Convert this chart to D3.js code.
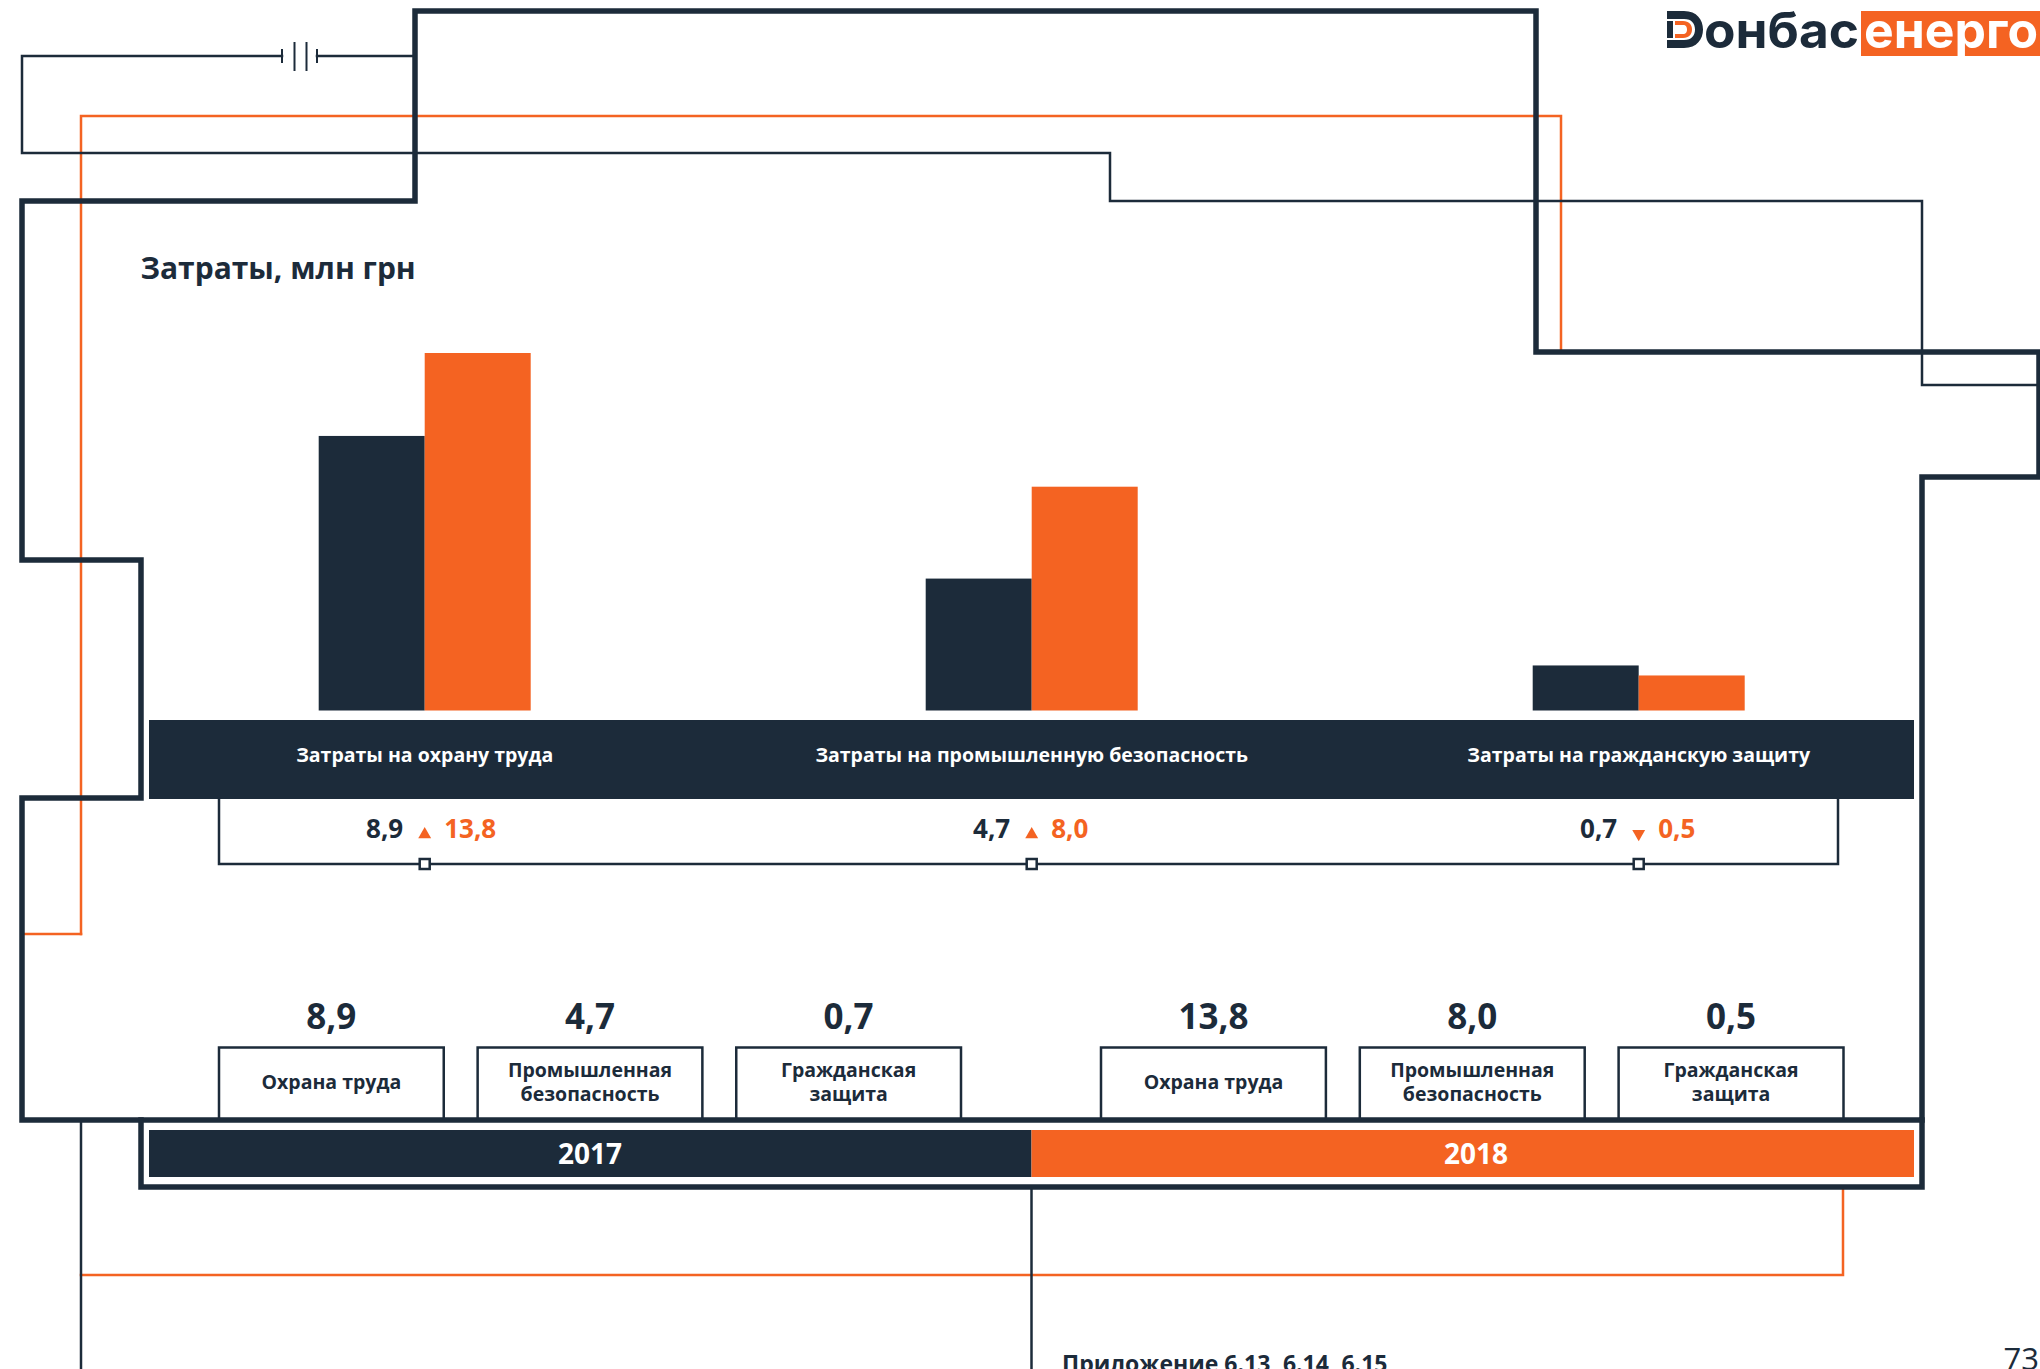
<!DOCTYPE html>
<html>
<head>
<meta charset="utf-8">
<script src="https://cdn.jsdelivr.net/npm/d3@7"></script>
<style>
  html, body { margin: 0; padding: 0; background: #fff; overflow: hidden; }
  svg { display: block; }
  text { font-family: "Open Sans", sans-serif; }
</style>
</head>
<body>
<div id="chart"></div>
<script>
const categories = ['Затраты на охрану труда', 'Затраты на промышленную безопасность', 'Затраты на гражданскую защиту'];
const shortLabels = [['Охрана труда'], ['Промышленная', 'безопасность'], ['Гражданская', 'защита']];
const years = ['2017', '2018'];
const values2017 = [8.9, 4.7, 0.7];
const values2018 = [13.8, 8.0, 0.5];

// bars in the source are not drawn in proportion to their labels,
// so the heights are read off separately (tallest bar = 100)
const barLevels2017 = [76.8, 36.9, 12.6];
const barLevels2018 = [100, 62.6, 9.8];

const DARK = '#1c2b3a';
const ORANGE = '#f46322';

const svg = d3.select('#chart').append('svg')
  .attr('width', 2040)
  .attr('height', 1369);

const fmt = d => d3.format('.1f')(d).replace('.', ',');
const line = d3.line();

// background wiring
function wire(points, color, width) {
  svg.append('path')
    .attr('d', line(points))
    .attr('fill', 'none')
    .attr('stroke', color)
    .attr('stroke-width', width)
    .attr('stroke-linejoin', 'miter')
    .attr('stroke-linecap', 'square');
}

wire([[81, 934], [22, 934]], ORANGE, 2.5);
wire([[81, 934], [81, 116], [1561, 116], [1561, 352]], ORANGE, 2.5);
wire([[81, 1275], [1843, 1275], [1843, 1187]], ORANGE, 2.5);
wire([[81, 1120], [81, 1372]], DARK, 2.5);
wire([[1031.5, 1187], [1031.5, 1372]], DARK, 2.5);
wire([[415, 56], [317, 56]], DARK, 2.5);
wire([[282, 56], [22, 56], [22, 153], [1110, 153], [1110, 201], [1922, 201], [1922, 385], [2039, 385]], DARK, 2.5);

// battery symbol
wire([[282, 50], [282, 62]], DARK, 2);
wire([[317, 50], [317, 62]], DARK, 2);
wire([[294.5, 43], [294.5, 70]], DARK, 2);
wire([[306.5, 43], [306.5, 70]], DARK, 2);

// thick outline
wire([[415, 11], [1536, 11], [1536, 352], [2039, 352], [2039, 477], [1922, 477], [1922, 1120],
  [22, 1120], [22, 798], [141, 798], [141, 560], [22, 560], [22, 201], [415, 201], [415, 11]], DARK, 5.5);
wire([[141, 1120], [141, 1187], [1922, 1187], [1922, 1120]], DARK, 5.5);

svg.append('text')
  .attr('x', 140.5).attr('y', 279)
  .attr('font-size', 30).attr('font-weight', 700)
  .attr('fill', DARK)
  .text('Затраты, млн грн');

// upper chart
const xScale = d3.scalePoint().domain(categories).range([424.7, 1638.7]);
const barWidth = 106;
const yScale = d3.scaleLinear().domain([0, 100]).range([710.5, 353]);

const upper = categories.map((c, i) => ({
  category: c,
  v17: values2017[i], v18: values2018[i],
  l17: barLevels2017[i], l18: barLevels2018[i]
}));

svg.selectAll('rect.bar17').data(upper).enter().append('rect')
  .attr('class', 'bar17')
  .attr('x', d => xScale(d.category) - barWidth)
  .attr('y', d => yScale(d.l17))
  .attr('width', barWidth)
  .attr('height', d => yScale(0) - yScale(d.l17))
  .attr('fill', DARK);

svg.selectAll('rect.bar18').data(upper).enter().append('rect')
  .attr('class', 'bar18')
  .attr('x', d => xScale(d.category))
  .attr('y', d => yScale(d.l18))
  .attr('width', barWidth)
  .attr('height', d => yScale(0) - yScale(d.l18))
  .attr('fill', ORANGE);

// category band
svg.append('rect')
  .attr('x', 149).attr('y', 720)
  .attr('width', 1765).attr('height', 79)
  .attr('fill', DARK);

svg.selectAll('text.category').data(upper).enter().append('text')
  .attr('class', 'category')
  .attr('x', d => xScale(d.category))
  .attr('y', 762)
  .attr('text-anchor', 'middle')
  .attr('font-size', 19.5).attr('font-weight', 700)
  .attr('fill', '#fff')
  .text(d => d.category);

// bracket under the band
wire([[219, 799], [219, 864], [1838, 864], [1838, 799]], DARK, 2.5);

svg.selectAll('rect.node').data(upper).enter().append('rect')
  .attr('class', 'node')
  .attr('x', d => xScale(d.category) - 5)
  .attr('y', 859)
  .attr('width', 10).attr('height', 10)
  .attr('fill', '#fff')
  .attr('stroke', DARK).attr('stroke-width', 2.5);

svg.selectAll('text.v17').data(upper).enter().append('text')
  .attr('class', 'v17')
  .attr('x', d => xScale(d.category) - 21.5)
  .attr('y', 837.5)
  .attr('text-anchor', 'end')
  .attr('font-size', 26).attr('font-weight', 700)
  .attr('fill', DARK)
  .text(d => fmt(d.v17));

svg.selectAll('text.v18').data(upper).enter().append('text')
  .attr('class', 'v18')
  .attr('x', d => xScale(d.category) + 19.5)
  .attr('y', 837.5)
  .attr('font-size', 26).attr('font-weight', 700)
  .attr('fill', ORANGE)
  .text(d => fmt(d.v18));

svg.selectAll('path.change').data(upper).enter().append('path')
  .attr('class', 'change')
  .attr('d', d3.symbol(d3.symbolTriangle, 72))
  .attr('fill', ORANGE)
  .attr('transform', d => d.v18 >= d.v17
    ? `translate(${xScale(d.category)},834.5)`
    : `translate(${xScale(d.category)},833.8) rotate(180)`);

// lower boxes, one band scale per year
const boxScales = {
  '2017': d3.scaleBand().domain(d3.range(3)).range([219, 961]).paddingInner(0.131),
  '2018': d3.scaleBand().domain(d3.range(3)).range([1101, 1843.5]).paddingInner(0.131)
};

function drawYear(year, values) {
  const x = boxScales[year];
  const g = svg.append('g').attr('class', 'year-' + year);
  const items = values.map((v, i) => ({ index: i, value: v, label: shortLabels[i] }));

  g.selectAll('path').data(items).enter().append('path')
    .attr('d', d => line([[x(d.index), 1120], [x(d.index), 1047.5],
      [x(d.index) + x.bandwidth(), 1047.5], [x(d.index) + x.bandwidth(), 1120]]))
    .attr('fill', 'none')
    .attr('stroke', DARK).attr('stroke-width', 2.5);

  g.selectAll('text.value').data(items).enter().append('text')
    .attr('class', 'value')
    .attr('x', d => x(d.index) + x.bandwidth() / 2)
    .attr('y', 1029)
    .attr('text-anchor', 'middle')
    .attr('font-size', 35).attr('font-weight', 700)
    .attr('fill', DARK)
    .text(d => fmt(d.value));

  g.selectAll('text.label').data(items).enter().append('text')
    .attr('class', 'label')
    .attr('text-anchor', 'middle')
    .attr('font-size', 19.5).attr('font-weight', 700)
    .attr('fill', DARK)
    .each(function (d) {
      const firstLine = d.label.length === 1 ? 1089 : 1077;
      d3.select(this).selectAll('tspan').data(d.label).enter().append('tspan')
        .attr('x', x(d.index) + x.bandwidth() / 2)
        .attr('y', (t, j) => firstLine + j * 24)
        .text(t => t);
    });
}

drawYear('2017', values2017);
drawYear('2018', values2018);

// year band
const yearScale = d3.scaleBand().domain(years).range([149, 1914]);
const yearColor = d3.scaleOrdinal().domain(years).range([DARK, ORANGE]);

svg.selectAll('rect.year').data(years).enter().append('rect')
  .attr('class', 'year')
  .attr('x', d => yearScale(d))
  .attr('y', 1130)
  .attr('width', yearScale.bandwidth())
  .attr('height', 47)
  .attr('fill', d => yearColor(d));

svg.selectAll('text.year').data(years).enter().append('text')
  .attr('class', 'year')
  .attr('x', (d, i) => i === 0 ? 590 : 1476)
  .attr('y', 1163.5)
  .attr('text-anchor', 'middle')
  .attr('font-size', 28).attr('font-weight', 700)
  .attr('fill', '#fff')
  .text(d => d);

// footer, cut by the page edge as in the source
svg.append('text')
  .attr('x', 1062).attr('y', 1371.5)
  .attr('font-size', 23).attr('font-weight', 700)
  .attr('fill', DARK)
  .text('Приложение 6.13, 6.14, 6.15');

svg.append('text')
  .attr('x', 2039).attr('y', 1369.5)
  .attr('text-anchor', 'end')
  .attr('font-size', 31).attr('font-weight', 400)
  .attr('fill', DARK)
  .text('73');

// logo
const logo = svg.append('g').attr('class', 'logo');
logo.append('path')
  .attr('d', 'M1667 11H1684C1697 11 1703 20 1703 29.5C1703 39 1697 48 1684 48H1667V40H1684C1692 40 1695 35 1695 29.5C1695 24 1692 19 1684 19H1667Z')
  .attr('fill', DARK);
logo.append('rect').attr('x', 1667).attr('y', 21).attr('width', 6).attr('height', 17).attr('fill', DARK);
logo.append('path')
  .attr('d', 'M1675 21H1683C1689 21 1692 25 1692 29.5C1692 34 1689 38 1683 38H1675V34H1683C1686 34 1687 32 1687 29.5C1687 27 1686 25 1683 25H1675Z')
  .attr('fill', ORANGE);
logo.append('text')
  .attr('x', 1704).attr('y', 48)
  .attr('font-size', 50).attr('font-weight', 700)
  .attr('textLength', 155).attr('lengthAdjust', 'spacingAndGlyphs')
  .attr('fill', DARK)
  .style('font-family', 'Inter, sans-serif')
  .text('онбас');
logo.append('rect').attr('x', 1861).attr('y', 11).attr('width', 179).attr('height', 45).attr('fill', ORANGE);
logo.append('text')
  .attr('x', 1864).attr('y', 48)
  .attr('font-size', 50).attr('font-weight', 700)
  .attr('textLength', 174).attr('lengthAdjust', 'spacingAndGlyphs')
  .attr('fill', '#fff')
  .style('font-family', 'Inter, sans-serif')
  .text('енерго');
</script>
</body>
</html>
